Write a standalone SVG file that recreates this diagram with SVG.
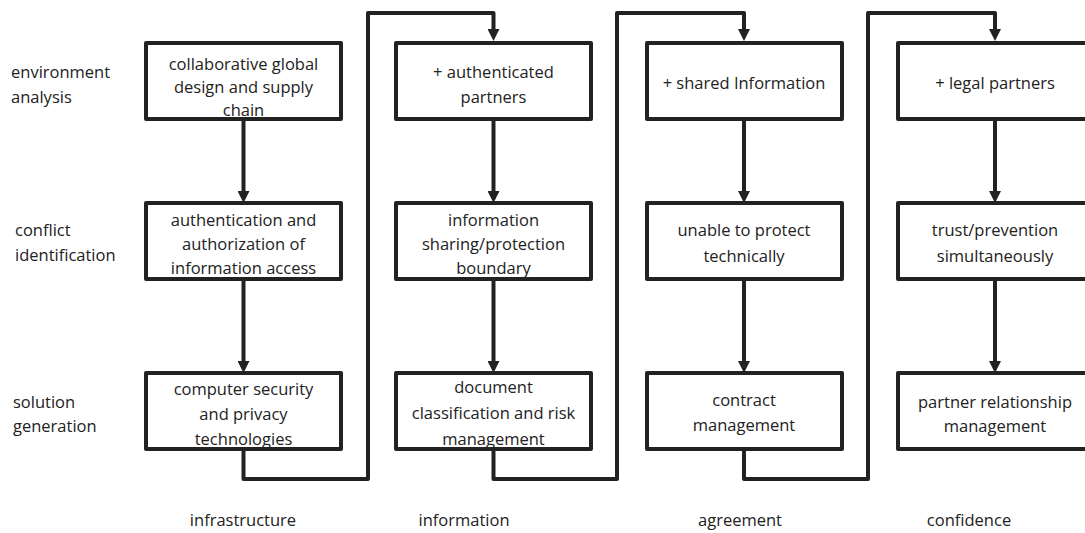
<svg xmlns="http://www.w3.org/2000/svg" width="1085" height="533" viewBox="0 0 1085 533">
<style>
.box{fill:#fff;stroke:#222;stroke-width:4;stroke-linejoin:round}
.t{font-family:"Open Sans","Liberation Sans",sans-serif;font-size:16.5px;fill:#222;text-anchor:middle}
.l{font-family:"Open Sans","Liberation Sans",sans-serif;font-size:16.5px;fill:#222}
.c{fill:none;stroke:#222;stroke-width:4;stroke-linejoin:round}
</style>
<defs>
<marker id="ah" viewBox="0 0 12 12" refX="2" refY="6" markerWidth="12" markerHeight="12" markerUnits="userSpaceOnUse" orient="auto">
<path d="M0,0 L12,6 L0,12 z" fill="#222"/>
</marker>
</defs>
<rect width="1085" height="533" fill="#fff"/>
<g id="connectors">
<path class="c" d="M243.5,119 V193" marker-end="url(#ah)"/>
<path class="c" d="M243.5,279 V363" marker-end="url(#ah)"/>
<path class="c" d="M493.5,119 V193" marker-end="url(#ah)"/>
<path class="c" d="M493.5,279 V363" marker-end="url(#ah)"/>
<path class="c" d="M744,119 V193" marker-end="url(#ah)"/>
<path class="c" d="M744,279 V363" marker-end="url(#ah)"/>
<path class="c" d="M995,119 V193" marker-end="url(#ah)"/>
<path class="c" d="M995,279 V363" marker-end="url(#ah)"/>
<path class="c" d="M243.5,449 V479 H368 V13 H493.5 V31" marker-end="url(#ah)"/>
<path class="c" d="M493.5,449 V479 H617 V13 H744 V31" marker-end="url(#ah)"/>
<path class="c" d="M744,449 V479 H868 V13 H995 V31" marker-end="url(#ah)"/>
</g>
<g id="row-labels">
<text class="l" x="11" y="78">environment</text>
<text class="l" x="11" y="103">analysis</text>
<text class="l" x="15" y="236">conflict</text>
<text class="l" x="15" y="261">identification</text>
<text class="l" x="13" y="408">solution</text>
<text class="l" x="13" y="432">generation</text>
</g>
<g id="n1"><rect class="box" x="146" y="43" width="195" height="76"/>
<text class="t" x="243.5" y="70">collaborative global</text><text class="t" x="243.5" y="93">design and supply</text><text class="t" x="243.5" y="116">chain</text></g>
<g id="n2"><rect class="box" x="146" y="203" width="195" height="76"/>
<text class="t" x="243.5" y="226">authentication and</text><text class="t" x="243.5" y="250">authorization of</text><text class="t" x="243.5" y="274">information access</text></g>
<g id="n3"><rect class="box" x="146" y="373" width="195" height="76"/>
<text class="t" x="243.5" y="395">computer security</text><text class="t" x="243.5" y="420">and privacy</text><text class="t" x="243.5" y="445">technologies</text></g>
<g id="n4"><rect class="box" x="396" y="43" width="195" height="76"/>
<text class="t" x="493.5" y="78">+ authenticated</text><text class="t" x="493.5" y="103">partners</text></g>
<g id="n5"><rect class="box" x="396" y="203" width="195" height="76"/>
<text class="t" x="493.5" y="226">information</text><text class="t" x="493.5" y="250">sharing/protection</text><text class="t" x="493.5" y="274">boundary</text></g>
<g id="n6"><rect class="box" x="396" y="373" width="195" height="76"/>
<text class="t" x="493.5" y="393">document</text><text class="t" x="493.5" y="419">classification and risk</text><text class="t" x="493.5" y="445">management</text></g>
<g id="n7"><rect class="box" x="647" y="43" width="195" height="76"/>
<text class="t" x="744" y="89">+ shared Information</text></g>
<g id="n8"><rect class="box" x="647" y="203" width="195" height="76"/>
<text class="t" x="744" y="236">unable to protect</text><text class="t" x="744" y="262">technically</text></g>
<g id="n9"><rect class="box" x="647" y="373" width="195" height="76"/>
<text class="t" x="744" y="406">contract</text><text class="t" x="744" y="431">management</text></g>
<g id="n10"><rect class="box" x="898" y="43" width="195" height="76"/>
<text class="t" x="995" y="89">+ legal partners</text></g>
<g id="n11"><rect class="box" x="898" y="203" width="195" height="76"/>
<text class="t" x="995" y="236">trust/prevention</text><text class="t" x="995" y="262">simultaneously</text></g>
<g id="n12"><rect class="box" x="898" y="373" width="195" height="76"/>
<text class="t" x="995" y="408">partner relationship</text><text class="t" x="995" y="432">management</text></g>
<g id="column-labels">
<text class="t" x="243" y="526">infrastructure</text>
<text class="t" x="464" y="526">information</text>
<text class="t" x="740" y="526">agreement</text>
<text class="t" x="969" y="526">confidence</text>
</g>
</svg>
